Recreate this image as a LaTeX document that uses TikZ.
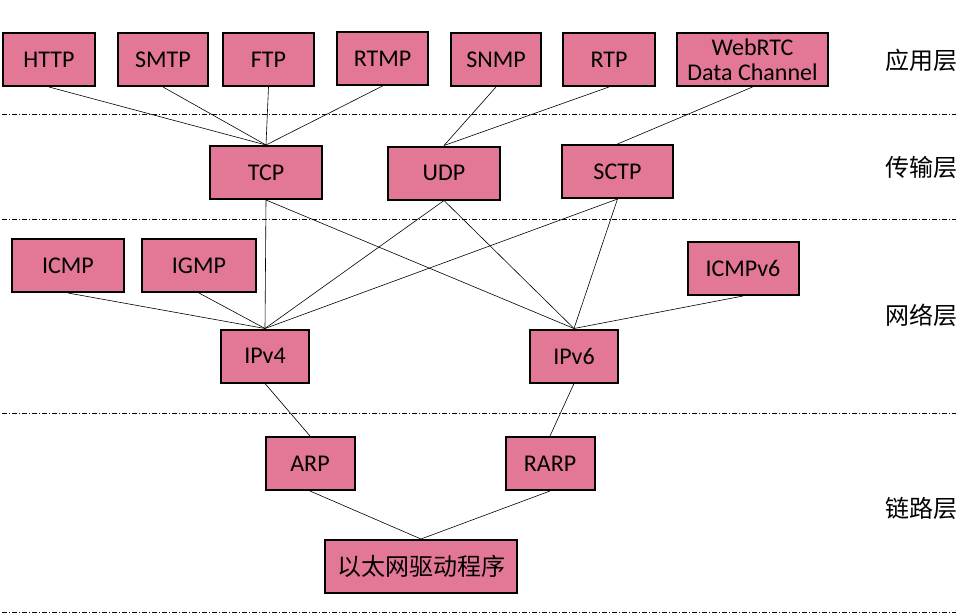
\documentclass[tikz,border=0pt]{standalone}
\usepackage{fontspec}
\setmainfont{Carlito}
\newfontfamily\cjk{Noto Sans CJK SC}
\usepackage{xcolor}
\definecolor{boxpink}{RGB}{227,119,150}
\tikzset{
    proto/.style={draw,line width=2pt,fill=boxpink,inner sep=0pt,minimum height=53,align=center,font=\fontsize{24}{25}\selectfont},
    layername/.style={font=\cjk\fontsize{24}{25}\selectfont},
    link/.style={line width=0.6pt},
    layerline/.style={line width=0.8pt,dash pattern=on 5pt off 2pt on 1pt off 2pt},
}

\begin{document}
\begin{tikzpicture}[x=1pt,y=-1pt]
		\useasboundingbox (0,0) rectangle (974,613);
		\foreach \y in {114,219,413,612} \draw[layerline] (2,\y) -- (956,\y);
		% application layer
		\node[proto,minimum width=92] (http) at (49,59.5) {HTTP};
		\node[proto,minimum width=90] (smtp) at (163,59.5) {SMTP};
		\node[proto,minimum width=91] (ftp) at (268.5,59.5) {FTP};
		\node[proto,minimum width=91] (rtmp) at (382.5,58.5) {RTMP};
		\node[proto,minimum width=90] (snmp) at (496,59.5) {SNMP};
		\node[proto,minimum width=92] (rtp) at (609,59.5) {RTP};
		\node[proto,minimum width=151] (webrtc) at (752.5,59.5) {WebRTC\\Data Channel};
		% transport layer
		\node[proto,minimum width=112] (tcp) at (266,172.5) {TCP};
		\node[proto,minimum width=112] (udp) at (444,173) {UDP};
		\node[proto,minimum width=111] (sctp) at (617.5,171.5) {SCTP};
		% network layer
		\node[proto,minimum width=112] (icmp) at (68,265.5) {ICMP};
		\node[proto,minimum width=114] (igmp) at (199,265.5) {IGMP};
		\node[proto,minimum width=111] (icmpv6) at (743,268.5) {ICMPv6};
		\node[proto,minimum width=88] (ipv4) at (265,356) {IPv4};
		\node[proto,minimum width=88] (ipv6) at (574,356) {IPv6};
		% link layer
		\node[proto,minimum width=89] (arp) at (310,463.5) {ARP};
		\node[proto,minimum width=89] (rarp) at (550,463.5) {RARP};
		\node[proto,minimum width=192,font=\cjk\fontsize{24}{25}\selectfont] (eth) at (421,566.5) {以太网驱动程序};
		\node[layername] (app) at (921,60) {应用层};
		\node[layername] (trans) at (921,167) {传输层};
		\node[layername] (net) at (921,315) {网络层};
		\node[layername] (lnk) at (921,508) {链路层};
		\foreach \a / \b in {http/tcp,smtp/tcp,ftp/tcp,rtmp/tcp,snmp/udp,rtp/udp,webrtc/sctp,tcp/ipv4,tcp/ipv6,udp/ipv4,udp/ipv6,sctp/ipv4,sctp/ipv6,icmp/ipv4,igmp/ipv4,icmpv6/ipv6,ipv4/arp,ipv6/rarp,arp/eth,rarp/eth} \draw[link] (\a.south) -- (\b.north);
	\end{tikzpicture}
\end{document}
